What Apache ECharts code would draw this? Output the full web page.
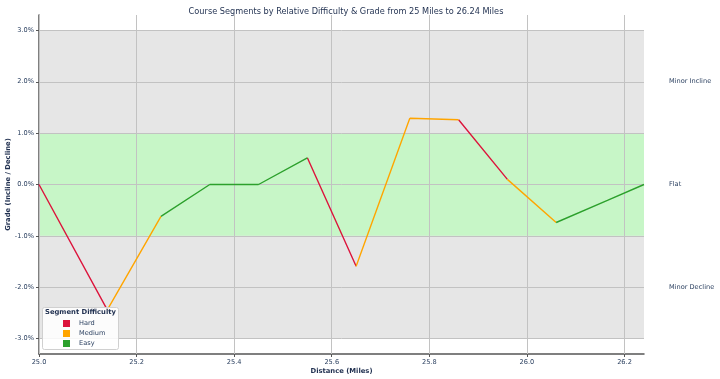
<!DOCTYPE html>
<html><head><meta charset="utf-8">
<script src="https://cdn.jsdelivr.net/npm/echarts@6/dist/echarts.min.js"></script>
<style>html,body{margin:0;padding:0;background:#fff}#c{width:720px;height:379px}</style>
</head><body><div id="c"></div>
<script>
const distances = [25.0, 25.14, 25.25, 25.35, 25.45, 25.55, 25.65, 25.76, 25.86, 25.96, 26.06, 26.165, 26.24];
const grades = [0.0, -2.44, -0.62, 0.0, 0.0, 0.52, -1.59, 1.29, 1.26, 0.10, -0.74, -0.31, 0.0];
const segmentDifficulty = ['Hard','Medium','Easy','Easy','Easy','Hard','Medium','Medium','Hard','Medium','Easy','Easy'];
const difficulties = ['Hard','Medium','Easy'];
const difficultyColors = ['#dc143c','#ffa500','#2ca02c'];
const xTicks = [25.0, 25.2, 25.4, 25.6, 25.8, 26.0, 26.2];
const yTicks = [-3, -2, -1, 0, 1, 2, 3];
const zoneValues = [2, 0, -2];
const zoneLabels = ['Minor Incline', 'Flat', 'Minor Decline'];
const bandRange = [-3, 3];
const flatRange = [-1, 1];

const txt = '#2a3f5f';
const series = [];
series.push({
  type: 'line', name: 'bands', data: [[distances[0], grades[0]]], showSymbol: false, silent: true, z: 1,
  lineStyle: {opacity: 0},
  markArea: {silent: true, data: [
    [{yAxis: bandRange[0], itemStyle: {color: '#e6e6e6'}}, {yAxis: bandRange[1]}],
    [{yAxis: flatRange[0], itemStyle: {color: '#c7f6c7'}}, {yAxis: flatRange[1]}]
  ]}
});
series.push({
  type: 'line', name: 'grid', data: [[distances[0], grades[0]]], showSymbol: false, silent: true, z: 2,
  lineStyle: {opacity: 0},
  markLine: {silent: true, symbol: ['none', 'none'], label: {show: false},
    lineStyle: {color: '#c2c2c2', width: 1, type: 'solid'},
    data: [...xTicks.map(v => ({xAxis: v})), ...yTicks.map(v => ({yAxis: v}))]}
});
difficulties.forEach((d, k) => {
  const data = [];
  segmentDifficulty.forEach((sd, i) => {
    if (sd === d) {
      data.push([distances[i], grades[i]], [distances[i + 1], grades[i + 1]], [distances[i + 1], null]);
    }
  });
  series.push({type: 'line', name: d, data, showSymbol: false, color: difficultyColors[k],
    lineStyle: {width: 1.4, color: difficultyColors[k]}, itemStyle: {color: difficultyColors[k]}, z: 10, connectNulls: false});
});

const chart = echarts.init(document.getElementById('c'), null, {renderer: 'canvas'});
chart.setOption({
  animation: false,
  title: {text: 'Course Segments by Relative Difficulty & Grade from 25 Miles to 26.24 Miles',
    left: 341, textAlign: 'center', top: 3,
    textStyle: {fontSize: 8.2, fontWeight: 'normal', color: '#1f2f4f', fontFamily: 'DejaVu Sans'}},
  grid: {left: 39, right: 76, top: 15, bottom: 25, outerBoundsMode: 'none'},
  legend: {data: difficulties, orient: 'vertical', left: 58, top: 315, icon: 'rect', itemWidth: 7, itemHeight: 7,
    itemGap: 3, z: 40, textStyle: {fontSize: 6.6, color: txt, fontFamily: 'DejaVu Sans', padding: [0, 0, 0, 4]}, selectedMode: false},
  graphic: [
    {type: 'rect', left: 42, top: 307, z: 30, shape: {width: 76, height: 42, r: 2},
      style: {fill: 'rgba(255,255,255,0.85)', stroke: '#d0d0d0', lineWidth: 1}},
    {type: 'text', left: 45, top: 309, z: 41,
      style: {text: 'Segment Difficulty', font: 'bold 6.8px "DejaVu Sans"', fill: '#1f2f4f'}}
  ],
  xAxis: {type: 'value', min: 25, max: 26.24,
    name: 'Distance (Miles)', nameLocation: 'middle', nameGap: 14, nameMoveOverlap: false,
    nameTextStyle: {fontWeight: 'bold', fontSize: 6.8, color: '#1f2f4f', fontFamily: 'DejaVu Sans'},
    axisLine: {show: true, onZero: false, lineStyle: {color: '#555', width: 1.5}},
    axisTick: {show: true, customValues: xTicks, length: 3, lineStyle: {color: '#555'}},
    axisLabel: {customValues: xTicks, formatter: v => v.toFixed(1), fontSize: 6.6, color: txt, margin: 5, fontFamily: 'DejaVu Sans'},
    splitLine: {show: false}},
  yAxis: [
    {type: 'value', min: -3.3, max: 3.3, position: 'left',
      name: 'Grade (Incline / Decline)', nameLocation: 'middle', nameGap: 27, nameMoveOverlap: false,
      nameTextStyle: {fontWeight: 'bold', fontSize: 6.8, color: '#1f2f4f', fontFamily: 'DejaVu Sans'},
      axisLine: {show: true, onZero: false, lineStyle: {color: '#555', width: 1.5}},
      axisTick: {show: true, customValues: yTicks, length: 3, lineStyle: {color: '#555'}},
      axisLabel: {customValues: yTicks, formatter: v => v.toFixed(1) + '%', fontSize: 6.6, color: txt, margin: 5, fontFamily: 'DejaVu Sans'},
      splitLine: {show: false}},
    {type: 'value', min: -3.3, max: 3.3, position: 'right',
      axisLine: {show: false}, axisTick: {show: false}, splitLine: {show: false},
      axisLabel: {customValues: zoneValues, formatter: v => zoneLabels[zoneValues.indexOf(Math.round(v))] || '',
        fontSize: 6.6, color: txt, margin: 25, align: 'left', fontFamily: 'DejaVu Sans'}}
  ],
  series
});
</script></body></html>
